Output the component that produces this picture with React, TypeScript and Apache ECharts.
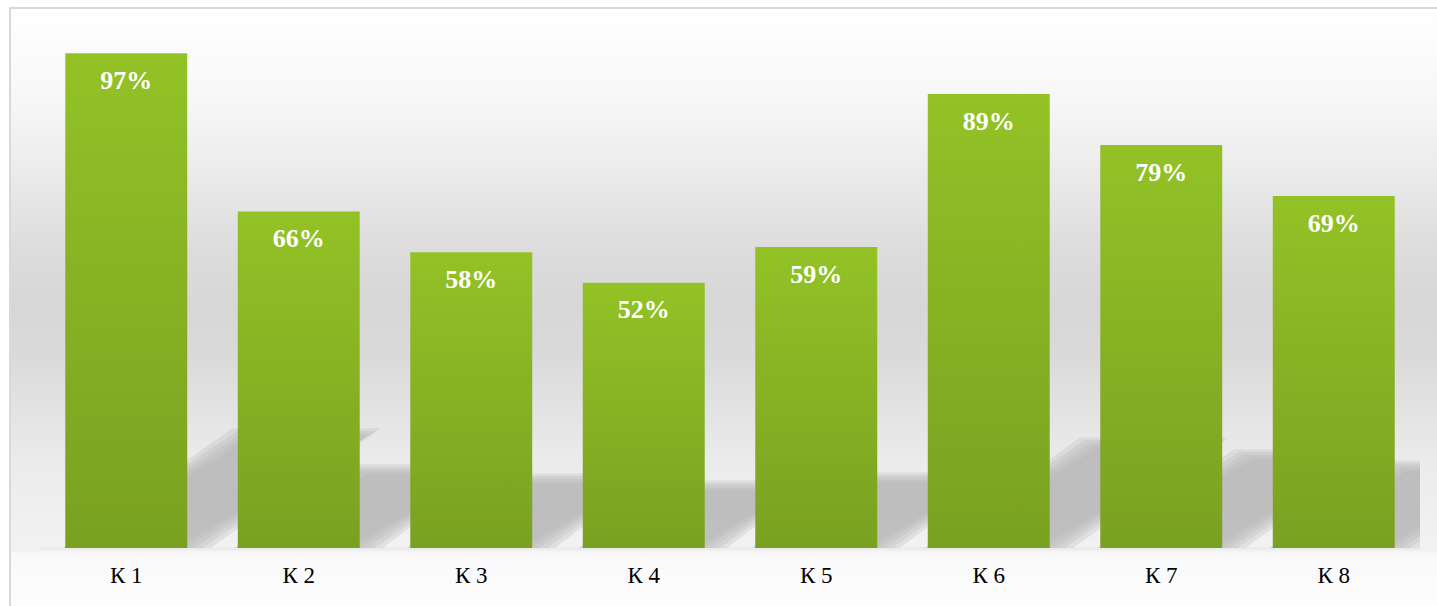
import React, { useEffect, useRef } from "react";
import * as echarts from "echarts";

const categories = ["К 1", "К 2", "К 3", "К 4", "К 5", "К 6", "К 7", "К 8"];
const values = [97, 66, 58, 52, 59, 89, 79, 69];

const BAR_FRACTION = 0.707;
const SHADOW_RATIO = 0.228;
const SHADOW_SHEAR = 1.6;
const BLUR_STEPS = [7, 4.5, 2, -0.5, -3];

export default function App() {
  const ref = useRef<HTMLDivElement>(null);
  useEffect(() => {
    if (!ref.current) return;
    const chart = echarts.init(ref.current, null, { renderer: "svg" });
    const option: any = {
      animation: false,
      graphic: [
        {
          type: "rect",
          z: -10,
          silent: true,
          shape: { x: 10, y: 8, width: 1440, height: 610 },
          style: {
            fill: new echarts.graphic.LinearGradient(0, 0, 0, 1, [
              { offset: 0, color: "#ffffff" },
              { offset: 0.15, color: "#f7f7f7" },
              { offset: 0.24, color: "#eeeeee" },
              { offset: 0.4, color: "#dcdcdc" },
              { offset: 0.49, color: "#d7d7d7" },
              { offset: 0.57, color: "#dadada" },
              { offset: 0.66, color: "#e3e3e3" },
              { offset: 0.74, color: "#ebebeb" },
              { offset: 0.89, color: "#f2f2f2" },
              { offset: 0.895, color: "#f9f9f9" },
              { offset: 1, color: "#fefefe" },
            ]),
            stroke: "#d9d9d9",
            lineWidth: 2,
          },
        },
      ],
      grid: { left: 40, right: 17, top: 38, bottom: 58 },
      xAxis: {
        type: "category",
        data: categories,
        axisLine: { show: true, lineStyle: { color: "#ececec", width: 3 } },
        axisTick: { show: false },
        axisLabel: {
          color: "#000000",
          fontFamily: "Liberation Serif",
          fontSize: 23,
          margin: 16,
        },
      },
      yAxis: {
        type: "value",
        min: 0,
        max: 100,
        show: false,
        splitLine: { show: false },
      },
      series: [
        {
          type: "custom",
          z: 1,
          clip: true,
          silent: true,
          data: values.map((v, i) => [i, v]),
          renderItem: (params: any, api: any) => {
            const idx = api.value(0);
            const v = api.value(1);
            const base = api.coord([idx, 0]);
            const top = api.coord([idx, v]);
            const bw = api.size([1, 0])[0] * BAR_FRACTION;
            const h = base[1] - top[1];
            const hs = h * SHADOW_RATIO;
            const dx = hs * SHADOW_SHEAR;
            const x0 = base[0] - bw / 2;
            const x1 = base[0] + bw / 2;
            const B = base[1];
            const children = BLUR_STEPS.map((d) => {
              const ex = d * 1.9;
              return {
                type: "polygon",
                shape: {
                  points: [
                    [x0 - ex, B + d],
                    [x1 + ex, B + d],
                    [x1 + dx + ex, B - hs - d],
                    [x0 + dx - ex, B - hs - d],
                  ],
                },
                style: { fill: "rgba(178,178,178,0.26)" },
              };
            });
            return { type: "group", children };
          },
        },
        {
          type: "bar",
          z: 2,
          data: values,
          barWidth: BAR_FRACTION * 100 + "%",
          itemStyle: {
            color: new echarts.graphic.LinearGradient(0, 0, 0, 1, [
              { offset: 0, color: "#93c226" },
              { offset: 1, color: "#79a121" },
            ]),
          },
          label: {
            show: true,
            position: "insideTop",
            distance: 14,
            formatter: "{c}%",
            color: "#ffffff",
            fontWeight: "bold",
            fontFamily: "Liberation Serif",
            fontSize: 26,
          },
        },
      ],
    };
    chart.setOption(option);
    return () => chart.dispose();
  }, []);
  return (
    <div
      ref={ref}
      style={{ position: "absolute", left: 0, top: 0, width: 1437, height: 606 }}
    />
  );
}
